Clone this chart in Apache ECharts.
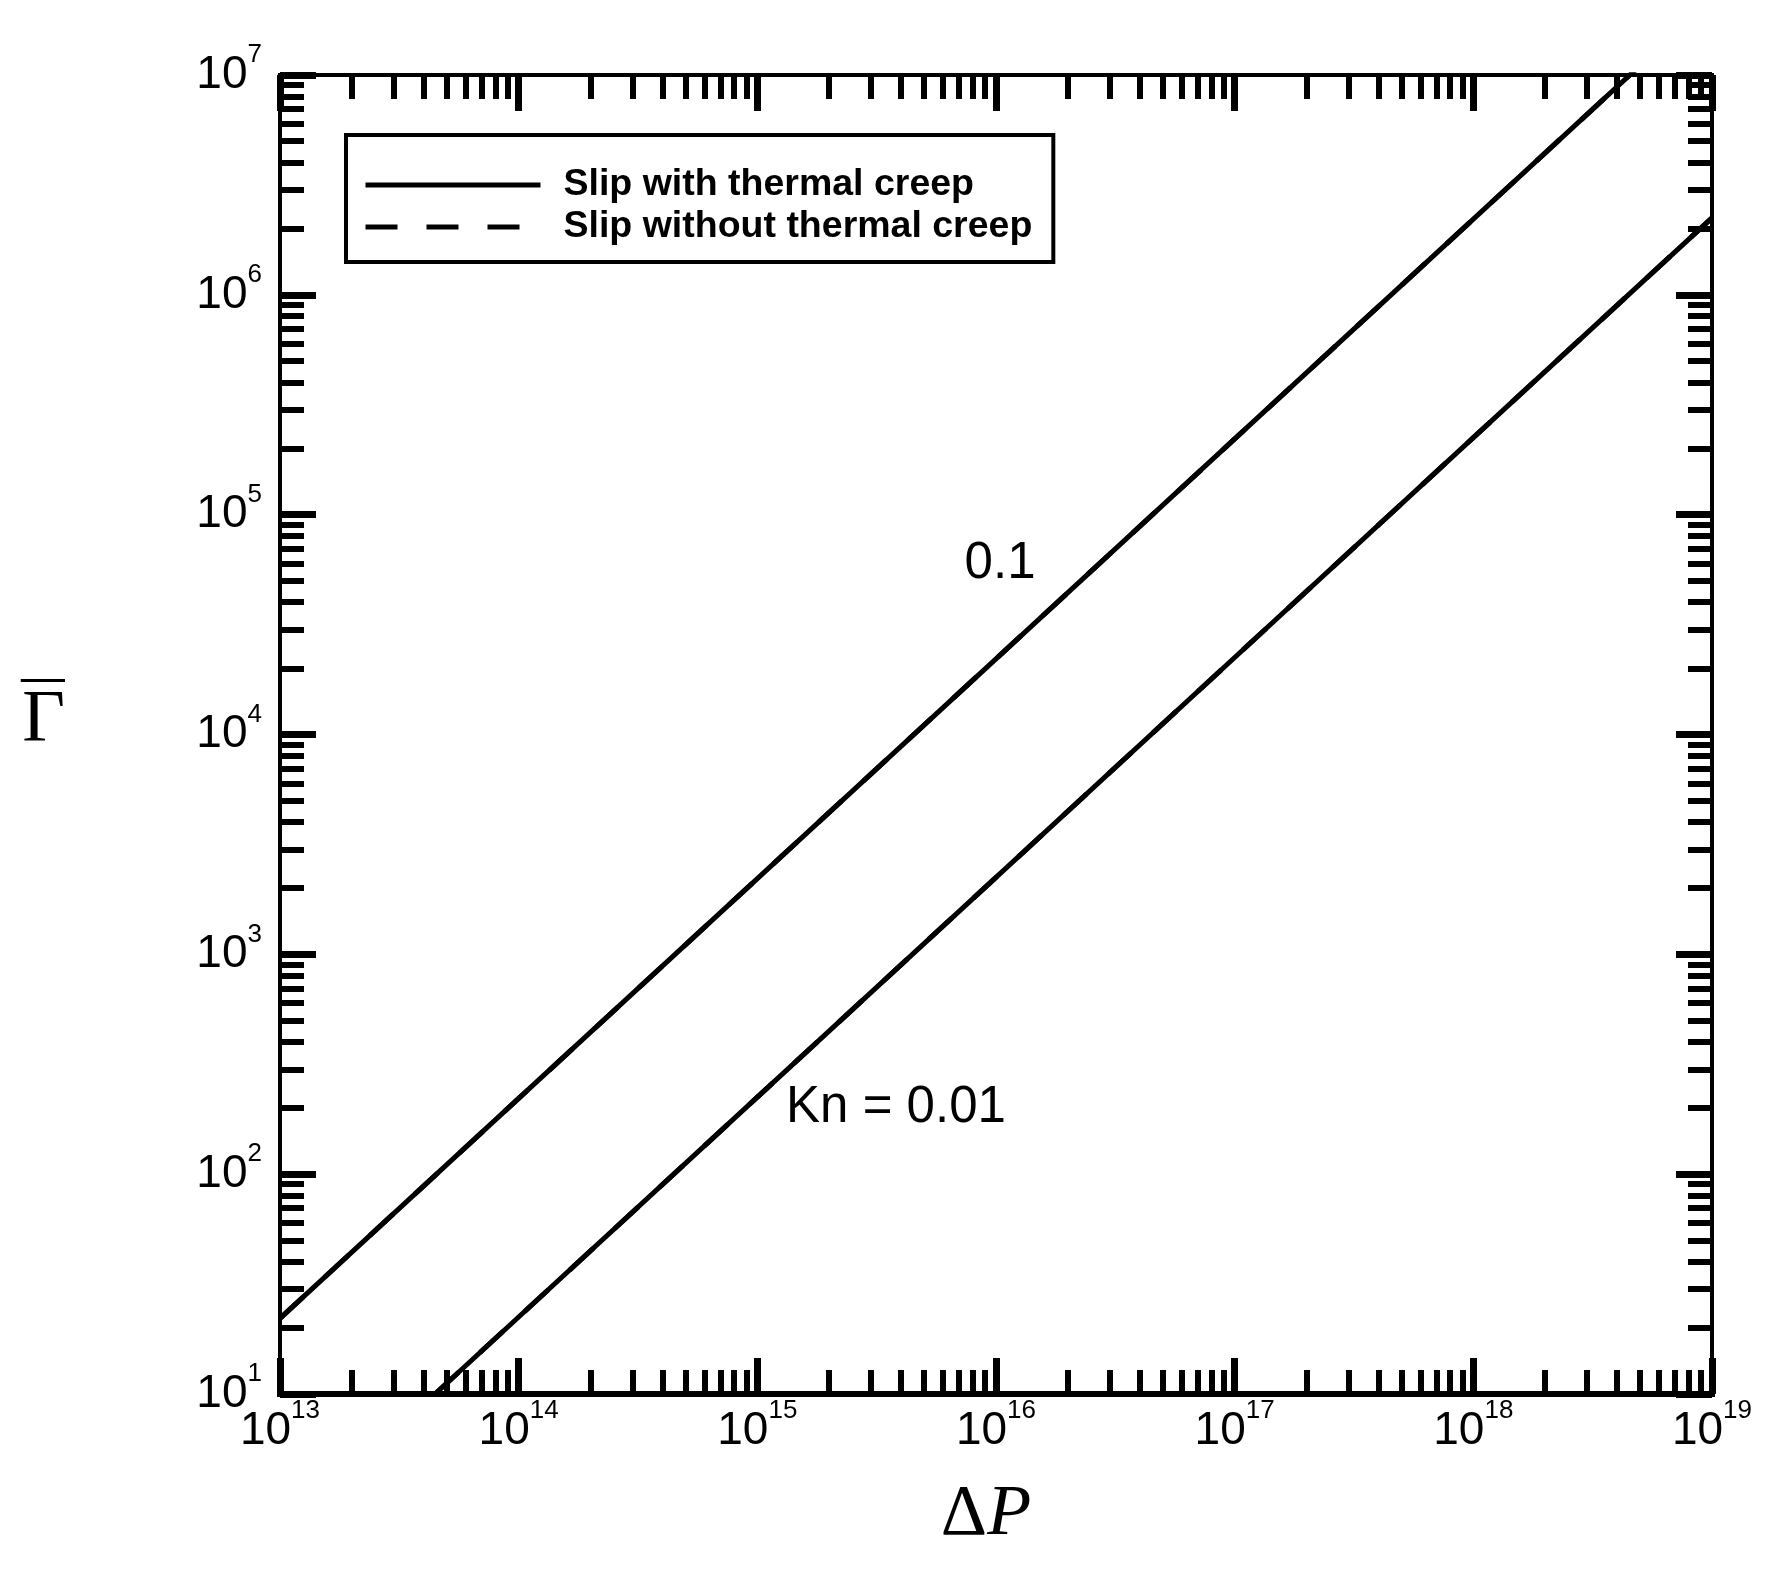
<!DOCTYPE html>
<html><head><meta charset="utf-8">
<script src="https://cdn.jsdelivr.net/npm/echarts@6/dist/echarts.min.js"></script>
<style>html,body{margin:0;padding:0;background:#fff}#c{width:1789px;height:1588px}</style>
</head><body><div id="c"></div>
<script>
// ---- data ----
const seriesNames = ['Slip with thermal creep', 'Slip without thermal creep'];
const kn01X = [1e13, 1e14, 1e15, 1e16, 1e17, 1e18, 1e19];
const kn01Y = [22.1, 221, 2210, 22100, 221000, 2210000, 22100000];
const kn001X = [4.46e13, 1e14, 1e15, 1e16, 1e17, 1e18, 1e19];
const kn001Y = [10, 22.4, 224, 2240, 22400, 224000, 2240000];
const xMajorTicks = [1e13, 1e14, 1e15, 1e16, 1e17, 1e18, 1e19];
const yMajorTicks = [1e1, 1e2, 1e3, 1e4, 1e5, 1e6, 1e7];
const minorMantissas = [2, 3, 4, 5, 6, 7, 8, 9];
const annotationText = ['0.1', 'Kn = 0.01'];
const annotationX = [1.04e16, 3.81e15];
const annotationY = [5.96e4, 199.5];

const minorOf = (majors) => {
  const out = [];
  for (let i = 0; i < majors.length - 1; i++) minorMantissas.forEach(m => out.push(m * majors[i]));
  return out;
};
const xMinorTicks = minorOf(xMajorTicks);
const yMinorTicks = minorOf(yMajorTicks);

const SANS = '"Liberation Sans", Arial, Helvetica, sans-serif';
const SERIF = '"Liberation Serif", "Times New Roman", serif';

const tickRich = {
  b: {fontSize: 46, fontFamily: SANS, color: '#000', lineHeight: 46},
  s: {fontSize: 26, fontFamily: SANS, color: '#000', lineHeight: 26, padding: [0, 0, 40, 0]}
};
const fmtPow = v => '{b|10}{s|' + Math.round(Math.log10(v)) + '}';

function axis(dim, pos, ticks, len, tw, opts) {
  const lo = dim === 'x' ? xMajorTicks[0] : yMajorTicks[0];
  const hi = dim === 'x' ? xMajorTicks[xMajorTicks.length - 1] : yMajorTicks[yMajorTicks.length - 1];
  const a = {
    type: 'log', logBase: 10, min: lo, max: hi, position: pos,
    splitLine: {show: false}, minorTick: {show: false}, minorSplitLine: {show: false},
    axisLine: {show: !!opts.line, onZero: false, lineStyle: {color: '#000', width: opts.line || 0, cap: 'square'}},
    axisTick: {show: true, inside: true, length: len, customValues: ticks, lineStyle: {color: '#000', width: tw}},
    axisLabel: {show: false},
    axisPointer: {show: false}
  };
  if (opts.labels) {
    a.axisLabel = {show: true, customValues: ticks, formatter: fmtPow, rich: tickRich, margin: opts.margin};
  }
  return Object.assign(a, opts.extra || {});
}

const chart = echarts.init(document.getElementById('c'));
chart.setOption({
  backgroundColor: '#fff',
  animation: false,
  grid: {left: 280, right: 77, top: 75, bottom: 194},
  legend: {
    data: seriesNames, orient: 'vertical', left: 346, top: 135,
    padding: [31, 21, 16, 17], itemGap: 4, itemWidth: 175, itemHeight: 1,
    borderColor: '#000', borderWidth: 4, selectedMode: false,
    itemStyle: {color: 'rgba(0,0,0,0)', borderWidth: 0},
    lineStyle: {width: 5},
    textStyle: {fontFamily: SANS, fontWeight: 'bold', fontSize: 37.5, color: '#000', lineHeight: 37, padding: [0, 0, 0, 18]}
  },
  xAxis: [
    axis('x', 'bottom', xMajorTicks, 36, 7, {line: 6, labels: true, margin: 14, extra: {
      name: '{a|Δ}{p|P}', nameLocation: 'middle', nameGap: 85,
      nameTextStyle: {padding: [0, 20, 0, 0], rich: {a: {fontFamily: SERIF, fontSize: 72, color: '#000'}, p: {fontFamily: SERIF, fontSize: 72, fontStyle: 'italic', color: '#000'}}}
    }}),
    axis('x', 'bottom', xMinorTicks, 24, 6, {}),
    axis('x', 'top', xMajorTicks, 36, 7, {line: 4}),
    axis('x', 'top', xMinorTicks, 24, 6, {})
  ],
  yAxis: [
    axis('y', 'left', yMajorTicks, 36, 7, {line: 4, labels: true, margin: 18, extra: {
      name: '{bar| }\n{g|Γ}', nameLocation: 'middle', nameRotate: 0, nameGap: 215,
      nameTextStyle: {padding: [0, 0, 34, 0], align: 'right', rich: {
        bar: {fontSize: 1, lineHeight: 1, padding: [1, 22, 1, 22], backgroundColor: '#000', align: 'right'},
        g: {fontFamily: SERIF, fontSize: 74, lineHeight: 74, padding: [7, 0, 0, 0], color: '#000', align: 'right'}
      }}
    }}),
    axis('y', 'left', yMinorTicks, 24, 6, {}),
    axis('y', 'right', yMajorTicks, 36, 7, {line: 4}),
    axis('y', 'right', yMinorTicks, 24, 6, {})
  ],
  series: [
    {name: seriesNames[1], type: 'line', z: 2, symbol: 'none', data: kn01X.map((x, i) => [x, kn01Y[i]]),
      lineStyle: {color: '#000', width: 5, type: [32, 29]}, itemStyle: {color: '#000'}},
    {name: seriesNames[1], type: 'line', z: 2, symbol: 'none', data: kn001X.map((x, i) => [x, kn001Y[i]]),
      lineStyle: {color: '#000', width: 5, type: [32, 29]}, itemStyle: {color: '#000'}},
    {name: seriesNames[0], type: 'line', z: 3, symbol: 'none', data: kn01X.map((x, i) => [x, kn01Y[i]]),
      lineStyle: {color: '#000', width: 5}, itemStyle: {color: '#000'}},
    {name: seriesNames[0], type: 'line', z: 3, symbol: 'none', data: kn001X.map((x, i) => [x, kn001Y[i]]),
      lineStyle: {color: '#000', width: 5}, itemStyle: {color: '#000'}},
    {type: 'scatter', symbolSize: 0, silent: true, z: 4, itemStyle: {color: '#000'},
      data: annotationX.map((x, i) => [x, annotationY[i], annotationText[i]]),
      label: {show: true, position: [0, 0], align: 'center', verticalAlign: 'middle',
        formatter: p => '{t|' + p.data[2] + '}',
        rich: {t: {fontFamily: SANS, fontSize: 51, color: '#000', opacity: 1}}}}
  ]
});
</script></body></html>
